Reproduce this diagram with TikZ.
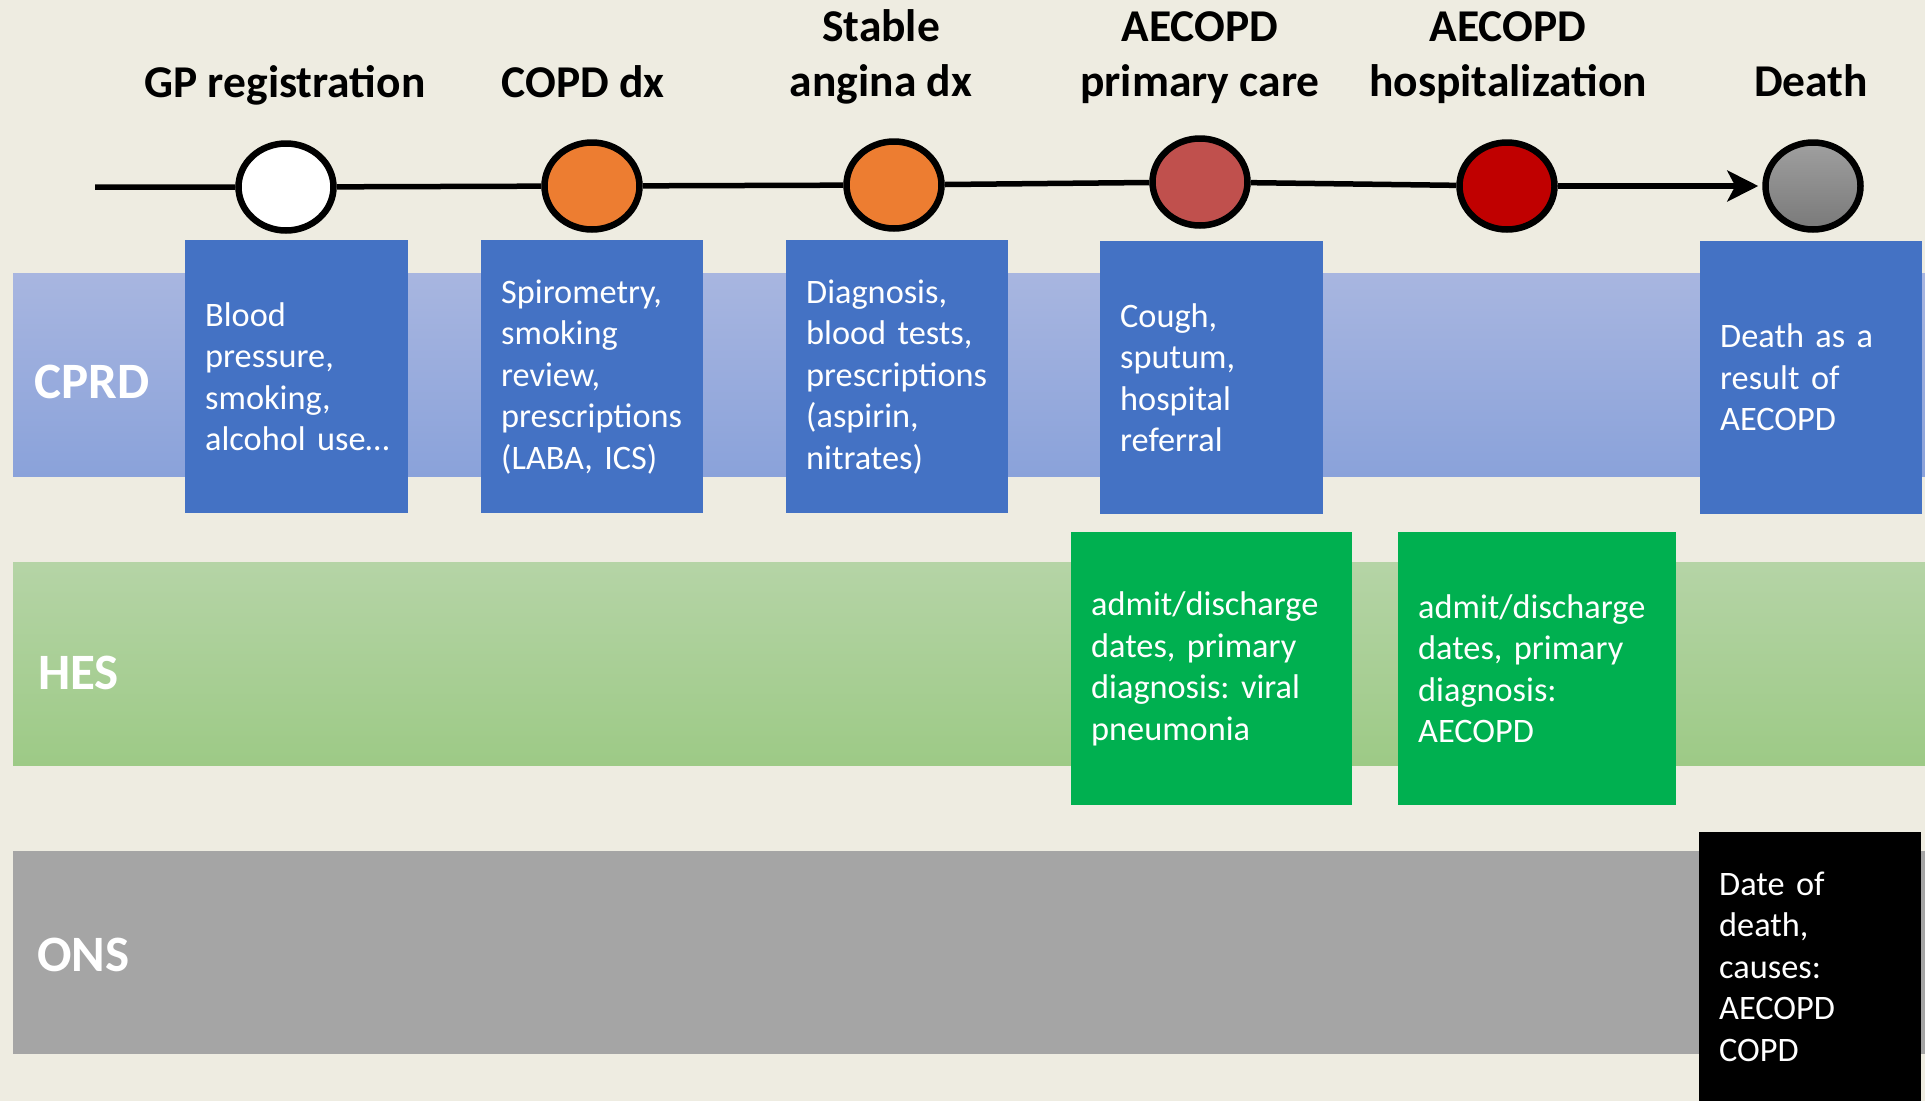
\documentclass[tikz,border=0pt]{standalone}
\usepackage{fontspec}
\setmainfont{Carlito}
\usetikzlibrary{arrows.meta,positioning,shapes.geometric}

\definecolor{bgtan}{HTML}{EEECE1}
\definecolor{cprdblue}{HTML}{4472C4}
\definecolor{hesgreen}{HTML}{00B050}
\definecolor{lanegray}{HTML}{A5A5A5}
\definecolor{cprdtop}{HTML}{A8B6E0}
\definecolor{cprdbot}{HTML}{8AA2DA}
\definecolor{hestop}{HTML}{B5D4A6}
\definecolor{hesbot}{HTML}{9DCA86}
\definecolor{evorange}{HTML}{ED7D31}
\definecolor{evrose}{HTML}{C0504D}
\definecolor{evred}{HTML}{C00000}

\frenchspacing

\begin{document}
\begin{tikzpicture}[
  x=1pt, y=-1pt,
  >={Stealth[length=31pt, width=31pt, inset=8pt]},
  title/.style={font=\fontsize{45.5}{55}\selectfont\bfseries, align=center, anchor=south, inner sep=0pt, text depth=0pt},
  lanelabel/.style={font=\fontsize{51}{60}\selectfont\bfseries, text=white, anchor=base west, inner sep=0pt},
  event/.style={ellipse, draw=black, line width=6.5pt, minimum width=95pt, minimum height=87pt, inner sep=0pt},
  infobox/.style={rectangle, text=white, font=\fontsize{34.3}{41.5}\selectfont, align=left, anchor=north west, inner xsep=20pt, inner ysep=0pt, minimum width=222pt, minimum height=273pt, text width=182pt},
  cprd/.style={infobox, fill=cprdblue},
  hes/.style={infobox, fill=hesgreen},
  ons/.style={infobox, fill=black, minimum height=269pt},
  timeline/.style={draw=black, line width=5.5pt}
]
% page and lanes
\fill[bgtan] (0,0) rectangle (1925,1101);
\useasboundingbox (0,0) rectangle (1925,1101);
\fill[top color=cprdtop, bottom color=cprdbot] (13,273) rectangle (1925,476);
\fill[top color=hestop, bottom color=hesbot] (13,562) rectangle (1925,765);
\fill[lanegray] (13,851) rectangle (1925,1054);
\node[lanelabel] (cprdlabel) at (34,398) {CPRD};
\node[lanelabel] (heslabel) at (38,689) {HES};
\node[lanelabel] (onslabel) at (37,971) {ONS};

% events on the timeline
\coordinate (tlstart) at (95,187);
\node[event, fill=white] (gp) at (286,187) {};
\node[event, fill=evorange] (copd) at (592,186) {};
\node[event, fill=evorange] (angina) at (894,185) {};
\node[event, fill=evrose] (pccare) at (1200,182) {};
\node[event, fill=evred] (hosp) at (1507,186) {};
\node[event, top color=gray!75, bottom color=gray!95!black] (death) at (1813,186) {};
\draw[timeline] (tlstart) -- (gp) -- (copd) -- (angina) -- (pccare) -- (hosp);
\draw[timeline, ->, shorten >=4pt] (hosp) -- (death);

\node[title] (gptitle) at (285,98) {GP registration};
\node[title] (copdtitle) at (583,98) {COPD dx};
\node[title] (anginatitle) at (881,97) {Stable\\angina dx};
\node[title] (pctitle) at (1200,97) {AECOPD\\primary care};
\node[title] (hosptitle) at (1508,97) {AECOPD\\hospitalization};
\node[title] (deathtitle) at (1811,97) {Death};

% CPRD records
\node[cprd, minimum width=223pt, text width=183pt] (gpinfo) at (185,240) {Blood\\pressure,\\smoking,\\alcohol~use…};
\node[cprd] (copdinfo) at (481,240) {Spirometry,\\smoking\\review,\\prescriptions\\(LABA, ICS)};
\node[cprd] (angininfo) at (786,240) {Diagnosis,\\blood tests,\\prescriptions\\(aspirin,\\nitrates)};
\node[cprd, minimum width=223pt, text width=183pt] (pcinfo) at (1100,241) {Cough,\\sputum,\\hospital\\referral};
\node[cprd] (deathinfo) at (1700,241) {Death as a\\result of\\AECOPD};

% HES records
\node[hes, minimum width=281pt, text width=241pt] (hesviral) at (1071,532) {admit/discharge\\dates, primary\\diagnosis: viral\\pneumonia};
\node[hes, minimum width=278pt, text width=238pt] (hesaecopd) at (1398,532) {admit/discharge\\dates, primary\\diagnosis:\\AECOPD};

% ONS record
\node[ons] (onsdeath) at (1699,832) {Date of\\death,\\causes:\\AECOPD\\COPD};
\end{tikzpicture}
\end{document}
